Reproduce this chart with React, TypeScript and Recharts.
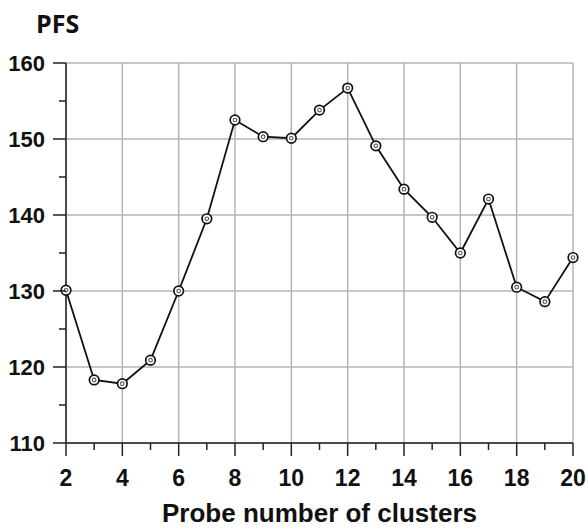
import React from "react";
import { LineChart, Line, XAxis, YAxis, CartesianGrid } from "recharts";

// Probe number of clusters (x) and the PFS value at each
const clusters = [2, 3, 4, 5, 6, 7, 8, 9, 10, 11, 12, 13, 14, 15, 16, 17, 18, 19, 20];
const pfsValues = [130.1, 118.3, 117.8, 120.9, 130.0, 139.5, 152.5, 150.3, 150.1, 153.8, 156.7, 149.1, 143.4, 139.7, 135.0, 142.1, 130.5, 128.6, 134.4];

// Axis ticks: every integer / every 5 gets a tick mark, labels on the majors
const xTicks = [2, 3, 4, 5, 6, 7, 8, 9, 10, 11, 12, 13, 14, 15, 16, 17, 18, 19, 20];
const xMajor = [2, 4, 6, 8, 10, 12, 14, 16, 18, 20];
const yTicks = [110, 115, 120, 125, 130, 135, 140, 145, 150, 155, 160];
const yMajor = [110, 120, 130, 140, 150, 160];

const data = clusters.map((c, i) => ({ k: c, pfs: pfsValues[i] }));

const FONT = "'Liberation Sans', Arial, sans-serif";

const XTick = (props: any) => {
  const { x, y, payload } = props;
  const major = xMajor.includes(payload.value);
  return (
    <g>
      <line x1={x} x2={x} y1={y} y2={y + (major ? 13 : 7)} stroke="#222" strokeWidth={1.5} />
      {major && (
        <text x={x} y={y + 43} textAnchor="middle" fontFamily={FONT} fontWeight="bold" fontSize={23} fill="#111">
          {payload.value}
        </text>
      )}
    </g>
  );
};

const YTick = (props: any) => {
  const { x, y, payload } = props;
  const major = yMajor.includes(payload.value);
  return (
    <g>
      <line x1={x} x2={x - (major ? 13 : 7)} y1={y} y2={y} stroke="#222" strokeWidth={1.5} />
      {major && (
        <text x={x - 21} y={y + 8} textAnchor="end" fontFamily={FONT} fontWeight="bold" fontSize={22} fill="#111">
          {payload.value}
        </text>
      )}
    </g>
  );
};

const Marker = (props: any) => {
  const { cx, cy, index } = props;
  return (
    <g key={`m-${index}`}>
      <circle cx={cx} cy={cy} r={4.8} fill="#fff" stroke="#111" strokeWidth={1.7} />
      <circle cx={cx} cy={cy} r={1.8} fill="none" stroke="#555" strokeWidth={1.1} />
    </g>
  );
};

const XLabel = (props: any) => {
  const { viewBox } = props;
  return (
    <text
      x={viewBox.x + viewBox.width / 2}
      y={viewBox.y + 79}
      textAnchor="middle"
      fontFamily={FONT}
      fontWeight="bold"
      fontSize={26}
      fill="#111"
    >
      Probe number of clusters
    </text>
  );
};

export default function App() {
  return (
    <div style={{ position: "absolute", left: 0, top: 0, width: 588, height: 529, background: "#fff" }}>
      <div
        style={{
          position: "absolute",
          left: 36,
          top: 6,
          fontFamily: "'Open Sans', sans-serif",
          fontWeight: 700,
          fontSize: 25,
          lineHeight: "34px",
          color: "#111",
        }}
      >
        PFS
      </div>
      <LineChart width={588} height={529} data={data} margin={{ top: 63, right: 15, bottom: 26, left: 0 }}>
        <XAxis xAxisId="grid" dataKey="k" type="number" domain={[2, 20]} ticks={xMajor} hide />
        <YAxis yAxisId="grid" dataKey="pfs" type="number" domain={[110, 160]} ticks={yMajor} hide />
        <CartesianGrid xAxisId="grid" yAxisId="grid" stroke="#b4b4b4" strokeWidth={1.5} />
        <XAxis
          dataKey="k"
          type="number"
          domain={[2, 20]}
          ticks={xTicks}
          interval={0}
          height={60}
          tickSize={0}
          tickMargin={0}
          tickLine={false}
          axisLine={{ stroke: "#222", strokeWidth: 1.5 }}
          tick={<XTick />}
          label={<XLabel />}
        />
        <YAxis
          type="number"
          domain={[110, 160]}
          ticks={yTicks}
          interval={0}
          width={66}
          tickSize={0}
          tickMargin={0}
          tickLine={false}
          axisLine={{ stroke: "#222", strokeWidth: 1.5 }}
          tick={<YTick />}
        />
        <Line
          dataKey="pfs"
          stroke="#111"
          strokeWidth={1.8}
          dot={<Marker />}
          activeDot={false}
          isAnimationActive={false}
        />
      </LineChart>
    </div>
  );
}
